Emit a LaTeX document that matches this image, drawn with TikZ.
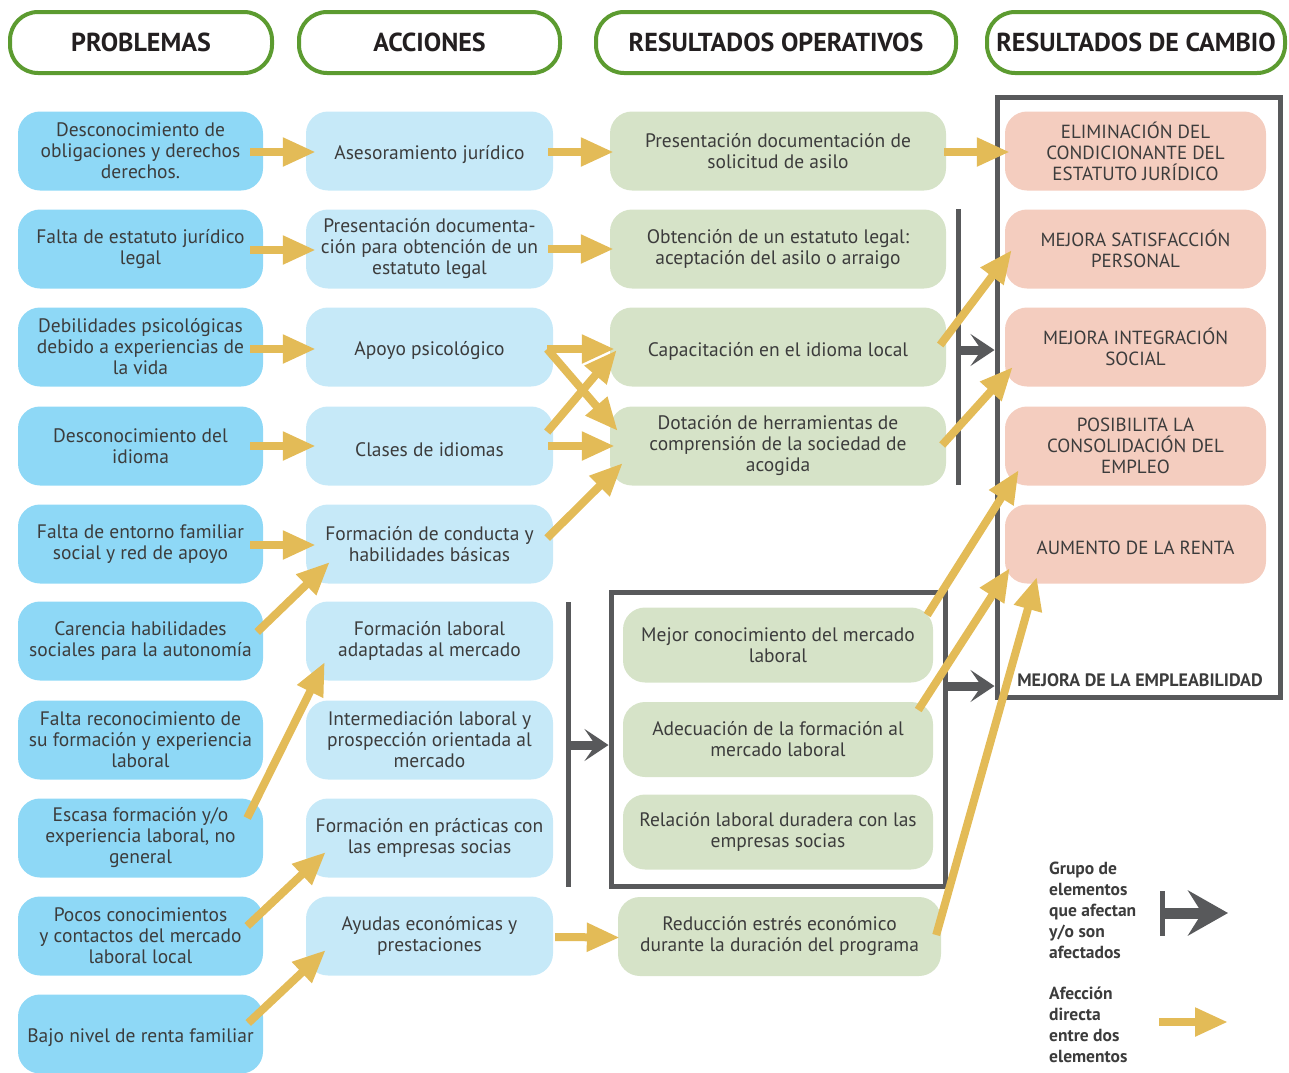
\documentclass[tikz,border=0pt]{standalone}
\usepackage{fontspec}
\setmainfont{PT Sans}
\usetikzlibrary{arrows.meta}

\definecolor{probfill}{HTML}{8ED8F6}
\definecolor{accfill}{HTML}{C6E9F8}
\definecolor{opfill}{HTML}{D6E3C8}
\definecolor{camfill}{HTML}{F4CDBF}
\definecolor{verde}{HTML}{5C9B30}
\definecolor{gris}{HTML}{58595B}
\definecolor{amarillo}{HTML}{E3BB57}
\definecolor{texto}{HTML}{3C3C3C}
\definecolor{negro}{HTML}{231F20}

\tikzset{
  caja/.style={rounded corners=22pt, minimum height=79pt, inner sep=0pt, align=center,
    text=texto, font=\fontsize{19.5}{21}\selectfont,
    execute at begin node={\rule{0pt}{22pt}}},
  problema/.style={caja, fill=probfill, minimum width=245pt},
  accion/.style={caja, fill=accfill, minimum width=247pt},
  operativo/.style={caja, fill=opfill, minimum width=336pt},
  cambio/.style={caja, fill=camfill, minimum width=261pt, font=\fontsize{19}{21}\selectfont},
  cabecera/.style={draw=verde, line width=4pt, fill=white, rounded corners=28pt,
    minimum height=61pt, text=negro, font=\bfseries\fontsize{26}{30}\selectfont},
  flecha/.style={draw=amarillo, line width=8pt, -{Triangle[length=33pt,width=27pt]}},
  grupo/.style={draw=gris, line width=9pt, -{Stealth[length=24pt,width=32pt,inset=11pt]}},
  marco/.style={draw=gris, line width=5pt},
  leyenda/.style={align=left, inner sep=0pt, text=texto, font=\bfseries\fontsize{17.5}{21}\selectfont},
}

\begin{document}
\begin{tikzpicture}[x=1pt, y=-1pt]
  \useasboundingbox (0,0) rectangle (1289,1072);

  % cabeceras
  \node[cabecera, minimum width=262pt] (h1) at (141,42.5) {PROBLEMAS};
  \node[cabecera, minimum width=261pt] (h2) at (429.5,42.5) {ACCIONES};
  \node[cabecera, minimum width=360pt] (h3) at (776,42.5) {RESULTADOS OPERATIVOS};
  \node[cabecera, minimum width=298pt] (h4) at (1136,42.5) {RESULTADOS DE CAMBIO};

  % marcos de grupo
  \node[marco, minimum width=283pt, minimum height=600pt] (mcambio) at (1138.5,397) {};
  \node[marco, minimum width=334pt, minimum height=294pt] (mgrupo) at (778,739) {};
  \node[text=texto, font=\bfseries\fontsize{18}{21}\selectfont] (empleab) at (1140,680) {MEJORA DE LA EMPLEABILIDAD};

  % problemas
  \node[problema] (p1) at (140.5,151) {Desconocimiento de\\obligaciones y derechos\\derechos.};
  \node[problema] (p2) at (140.5,249) {Falta de estatuto jurídico\\legal};
  \node[problema] (p3) at (140.5,347) {Debilidades psicológicas\\debido a experiencias de\\la vida};
  \node[problema] (p4) at (140.5,446) {Desconocimiento del\\idioma};
  \node[problema] (p5) at (140.5,544) {Falta de entorno familiar\\social y red de apoyo};
  \node[problema] (p6) at (140.5,641) {Carencia habilidades\\sociales para la autonomía};
  \node[problema] (p7) at (140.5,740) {Falta reconocimiento de\\su formación y experiencia\\laboral};
  \node[problema] (p8) at (140.5,838) {Escasa formación y/o\\experiencia laboral, no\\general};
  \node[problema] (p9) at (140.5,936) {Pocos conocimientos\\y contactos del mercado\\laboral local};
  \node[problema] (p10) at (140.5,1034) {Bajo nivel de renta familiar};

  % acciones
  \node[accion] (a1) at (429.5,151) {Asesoramiento jurídico};
  \node[accion] (a2) at (429.5,249) {Presentación documenta-\\ción para obtención de un\\estatuto legal};
  \node[accion] (a3) at (429.5,347) {Apoyo psicológico};
  \node[accion] (a4) at (429.5,446) {Clases de idiomas};
  \node[accion] (a5) at (429.5,544) {Formación de conducta y\\habilidades básicas};
  \node[accion] (a6) at (429.5,641) {Formación laboral\\adaptadas al mercado};
  \node[accion] (a7) at (429.5,740) {Intermediación laboral y\\prospección orientada al\\mercado};
  \node[accion] (a8) at (429.5,838) {Formación en prácticas con\\las empresas socias};
  \node[accion] (a9) at (429.5,936) {Ayudas económicas y\\prestaciones};

  % resultados operativos
  \node[operativo] (o1) at (778,151) {Presentación documentación de\\solicitud de asilo};
  \node[operativo] (o2) at (778,249) {Obtención de un estatuto legal:\\aceptación del asilo o arraigo};
  \node[operativo] (o3) at (778,347) {Capacitación en el idioma local};
  \node[operativo] (o4) at (778,446) {Dotación de herramientas de\\comprensión de la sociedad de\\acogida};
  \node[operativo, minimum width=310pt, minimum height=75pt] (o5) at (778,645) {Mejor conocimiento del mercado\\laboral};
  \node[operativo, minimum width=310pt, minimum height=75pt] (o6) at (778,739.5) {Adecuación de la formación al\\mercado laboral};
  \node[operativo, minimum width=310pt, minimum height=75pt] (o7) at (778,832) {Relación laboral duradera con las\\empresas socias};
  \node[operativo, minimum width=323pt] (o8) at (779.5,936.5) {Reducción estrés económico\\durante la duración del programa};

  % resultados de cambio
  \node[cambio] (c1) at (1135.5,151) {ELIMINACIÓN DEL\\CONDICIONANTE DEL\\ESTATUTO JURÍDICO};
  \node[cambio] (c2) at (1135.5,249) {MEJORA SATISFACCIÓN\\PERSONAL};
  \node[cambio] (c3) at (1135.5,347) {MEJORA INTEGRACIÓN\\SOCIAL};
  \node[cambio] (c4) at (1135.5,446) {POSIBILITA LA\\CONSOLIDACIÓN DEL\\EMPLEO};
  \node[cambio] (c5) at (1135.5,544) {AUMENTO DE LA RENTA};

  % corchetes de grupo
  \coordinate (b1a) at (958,209);
  \coordinate (b1b) at (958,485);
  \coordinate (b1m) at (958,350);
  \draw[marco] (b1a) -- (b1b);
  \draw[grupo] (b1m) -- (b1m -| mcambio.west);
  \coordinate (b2a) at (568,602);
  \coordinate (b2b) at (568,887);
  \coordinate (b2m) at (568,745);
  \draw[marco] (b2a) -- (b2b);
  \draw[grupo] (b2m) -- (b2m -| mgrupo.west);
  \coordinate (b3m) at ([yshift=53pt]mgrupo.east);
  \draw[grupo] (b3m) -- (b3m -| mcambio.west);

  % afecciones directas
  \draw[flecha] ([shift={(-13,1)}]p1.east) -- ([shift={(10,1)}]a1.west);
  \draw[flecha] ([shift={(-5,1)}]a1.east) -- ([shift={(4,1)}]o1.west);
  \draw[flecha] ([shift={(-2,1)}]o1.east) -- ([shift={(5,1)}]c1.west);
  \draw[flecha] ([shift={(-13,1)}]p2.east) -- ([shift={(10,1)}]a2.west);
  \draw[flecha] ([shift={(-5,0)}]a2.east) -- ([shift={(4,0)}]o2.west);
  \draw[flecha] ([shift={(-13,2)}]p3.east) -- ([shift={(10,2)}]a3.west);
  \draw[flecha] ([shift={(-6,2)}]a3.east) -- ([shift={(5,2)}]o3.west);
  \draw[flecha] ([shift={(-6,2)}]a3.east) -- ([shift={(8,-15)}]o4.west);
  \draw[flecha] ([shift={(-6,-14)}]a4.east) -- ([shift={(7,3)}]o3.west);
  \draw[flecha] ([shift={(-13,0)}]p4.east) -- ([shift={(10,0)}]a4.west);
  \draw[flecha] ([shift={(-5,0)}]a4.east) -- ([shift={(5,0)}]o4.west);
  \draw[flecha] ([shift={(-6,-6)}]a5.east) -- ([shift={(13,17)}]o4.west);
  \draw[flecha] ([shift={(-13,1)}]p5.east) -- ([shift={(10,1)}]a5.west);
  \draw[flecha] ([shift={(-6,-9)}]p6.east) -- ([shift={(24,18)}]a5.west);
  \draw[flecha] ([shift={(-16,-20)}]p8.east) -- ([shift={(19,21)}]a6.west);
  \draw[flecha] ([shift={(-16,-10)}]p9.east) -- ([shift={(20,14)}]a8.west);
  \draw[flecha] ([shift={(-15,-11)}]p10.east) -- ([shift={(20,14)}]a9.west);
  \draw[flecha] ([shift={(2,1)}]a9.east) -- ([shift={(2,1)}]o8.west);
  \draw[flecha] ([shift={(-6,-2)}]o3.east) -- ([shift={(7,1)}]c2.west);
  \draw[flecha] ([shift={(-4,-1)}]o4.east) -- ([shift={(8,20)}]c3.west);
  \draw[flecha] ([shift={(-6,-30)}]o5.east) -- ([shift={(14,24)}]c4.west);
  \draw[flecha] ([shift={(-15,-29.5)}]o6.east) -- ([shift={(5,24)}]c5.west);
  \draw[flecha] ([shift={(-5,-1.5)}]o8.east) -- ([shift={(32,33)}]c5.west);

  % leyenda
  \node[leyenda, anchor=north west] (ley1) at (1049,862) {Grupo de\\elementos\\que afectan\\y/o son\\afectados};
  \node[leyenda, anchor=north west] (ley2) at (1049,987) {Afección\\directa\\entre dos\\elementos};
  \coordinate (lg1) at (1162,891);
  \coordinate (lg2) at (1162,936);
  \coordinate (lg3) at (1162,913);
  \coordinate (lg4) at (1228,913);
  \draw[marco] (lg1) -- (lg2);
  \draw[draw=gris, line width=11pt, -{Stealth[length=40pt,width=45pt,inset=14pt]}] (lg3) -- (lg4);
  \coordinate (la1) at (1159,1022);
  \coordinate (la2) at (1228,1022);
  \draw[flecha] (la1) -- (la2);
\end{tikzpicture}
\end{document}
